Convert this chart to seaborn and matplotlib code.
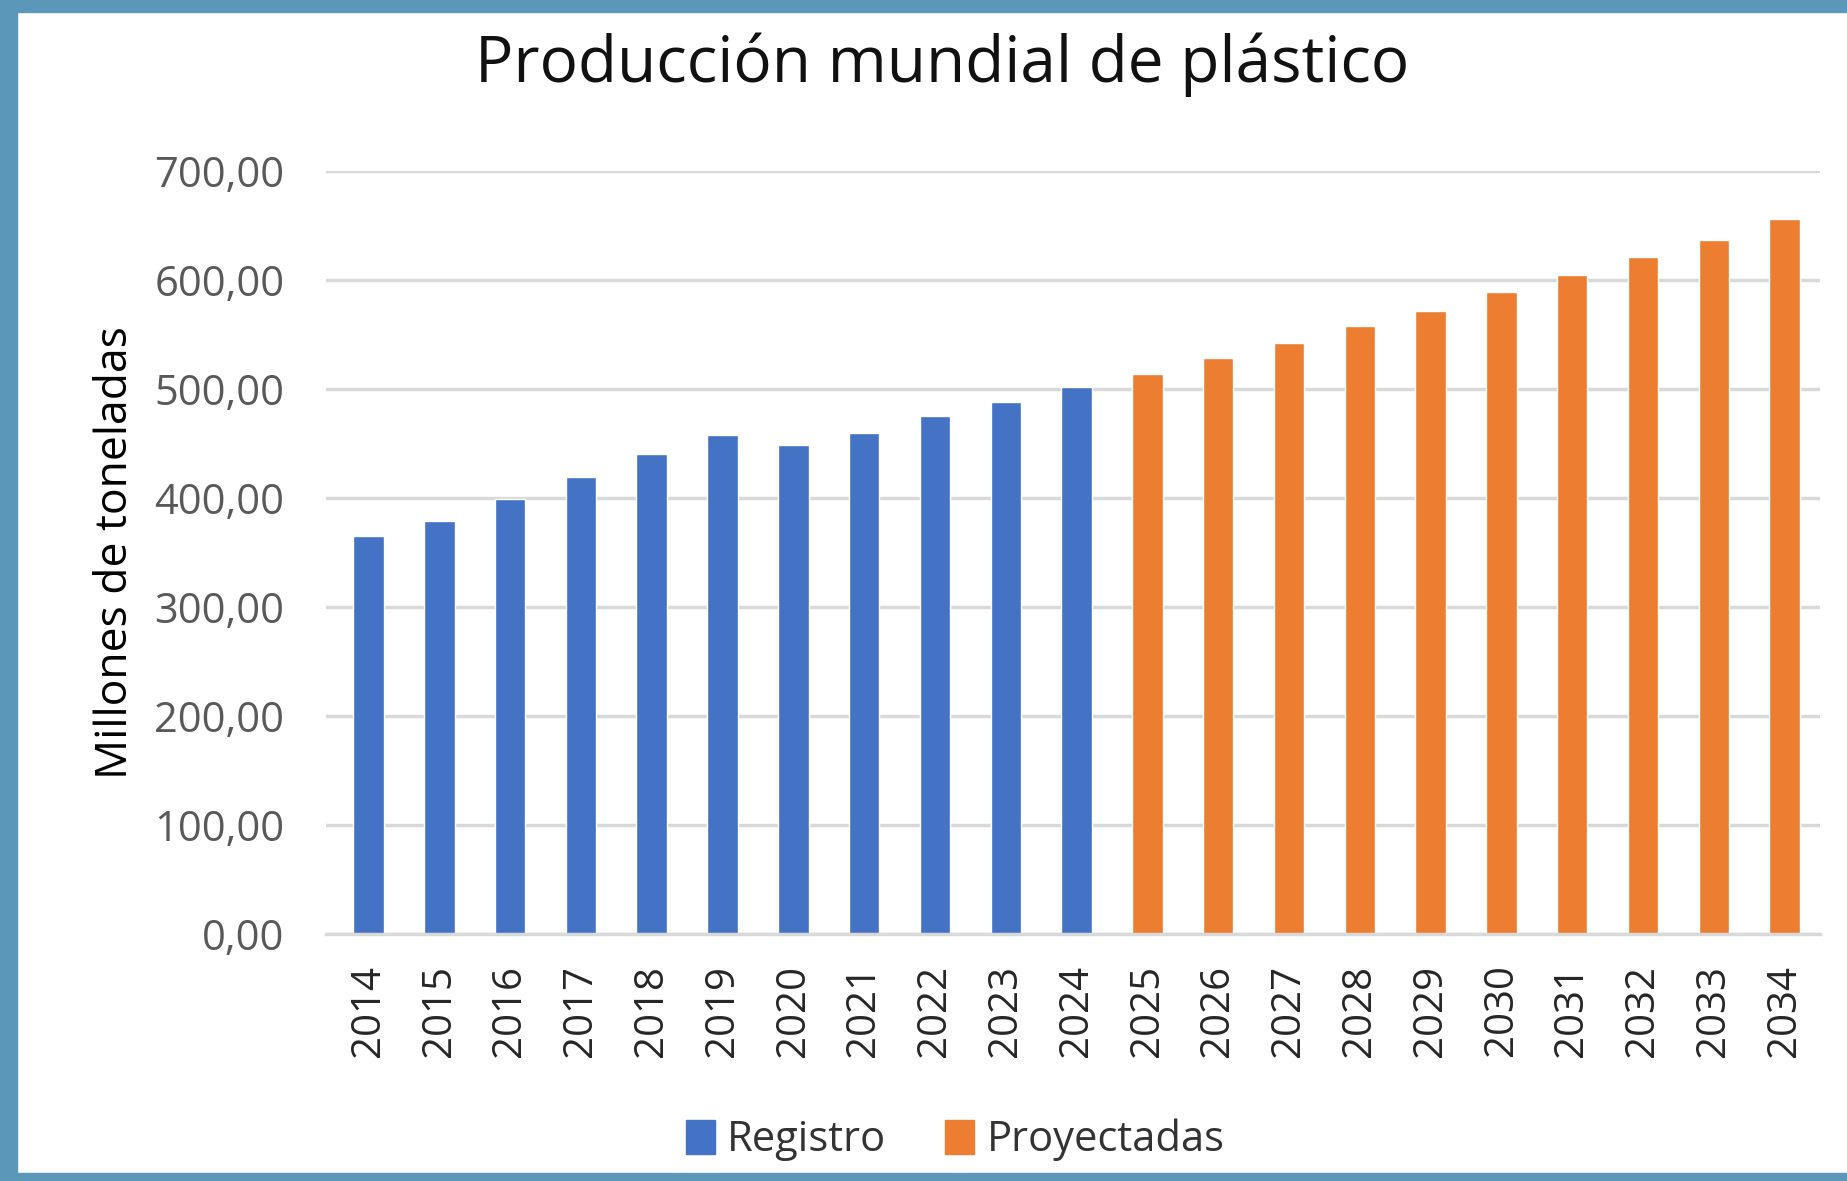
import matplotlib
matplotlib.use("Agg")
import matplotlib.pyplot as plt
import matplotlib.patches as mpatches
import matplotlib.ticker as mticker
import seaborn as sns
import pandas as pd

# --- datos ---
years = [str(y) for y in range(2014, 2035)]
values = [365, 379, 399, 419, 440, 458, 449, 460, 475, 488, 502,
          514, 528, 542, 558, 572, 589, 605, 621, 637, 656]
series = ["Registro"] * 11 + ["Proyectadas"] * 10
colors = {"Registro": "#4472C4", "Proyectadas": "#ED7D31"}
y_ticks = [0, 100, 200, 300, 400, 500, 600, 700]

df = pd.DataFrame({"year": years, "value": values, "serie": series})

sns.set_style("white")
plt.rcParams["font.family"] = ["Open Sans", "DejaVu Sans"]

fig = plt.figure(figsize=(18.47, 11.81), dpi=100)
ax = fig.add_axes([326 / 1847, 1 - 934 / 1181, (1820 - 326) / 1847, (934 - 171) / 1181])

sns.barplot(data=df, x="year", y="value", hue="serie", palette=colors,
            dodge=False, width=0.43, saturation=1, ax=ax, legend=True)

ax.set_ylim(0, 700)
ax.set_yticks(y_ticks)
ax.yaxis.set_major_formatter(mticker.FuncFormatter(lambda v, p: f"{v:.2f}".replace(".", ",")))
ax.grid(axis="y", color="#D9D9D9", linewidth=2.5)
ax.set_axisbelow(True)
for s in ["top", "right", "left"]:
    ax.spines[s].set_visible(False)
ax.spines["bottom"].set_color("#D9D9D9")
ax.spines["bottom"].set_linewidth(2.5)
ax.tick_params(axis="y", labelsize=30, labelcolor="#595959", length=0, pad=30)
ax.tick_params(axis="x", labelsize=29, labelcolor="#262626", length=0, rotation=90, pad=22)
ax.set_xlabel("")
ax.set_ylabel("Millones de toneladas", fontsize=32, color="#000000", labelpad=12)
ax.set_xlim(-0.6, 20.5)

fig.text(942 / 1847, 1 - 65 / 1181, "Producción mundial de plástico",
         ha="center", va="center", fontsize=46, color="#111111")

handles = [mpatches.Patch(color=colors[k]) for k in ["Registro", "Proyectadas"]]
ax.legend(handles, ["Registro", "Proyectadas"], loc="center",
          bbox_to_anchor=(955 / 1847, 1 - 1140 / 1181), bbox_transform=fig.transFigure,
          ncol=2, frameon=False, fontsize=30, handlelength=0.7, handleheight=0.9,
          handletextpad=0.3, columnspacing=1.4, labelcolor="#333333")

# marco azul de la imagen
fig.patches.append(mpatches.Rectangle((0, 0), 17 / 1847, 1, transform=fig.transFigure,
                                      color="#5B97B8", zorder=10))
fig.patches.append(mpatches.Rectangle((0, 1 - 12 / 1181), 1, 12 / 1181, transform=fig.transFigure,
                                      color="#5B97B8", zorder=10))
fig.patches.append(mpatches.Rectangle((0, 0), 1, 8 / 1181, transform=fig.transFigure,
                                      color="#5B97B8", zorder=10))

fig.savefig("out.png", dpi=100)
